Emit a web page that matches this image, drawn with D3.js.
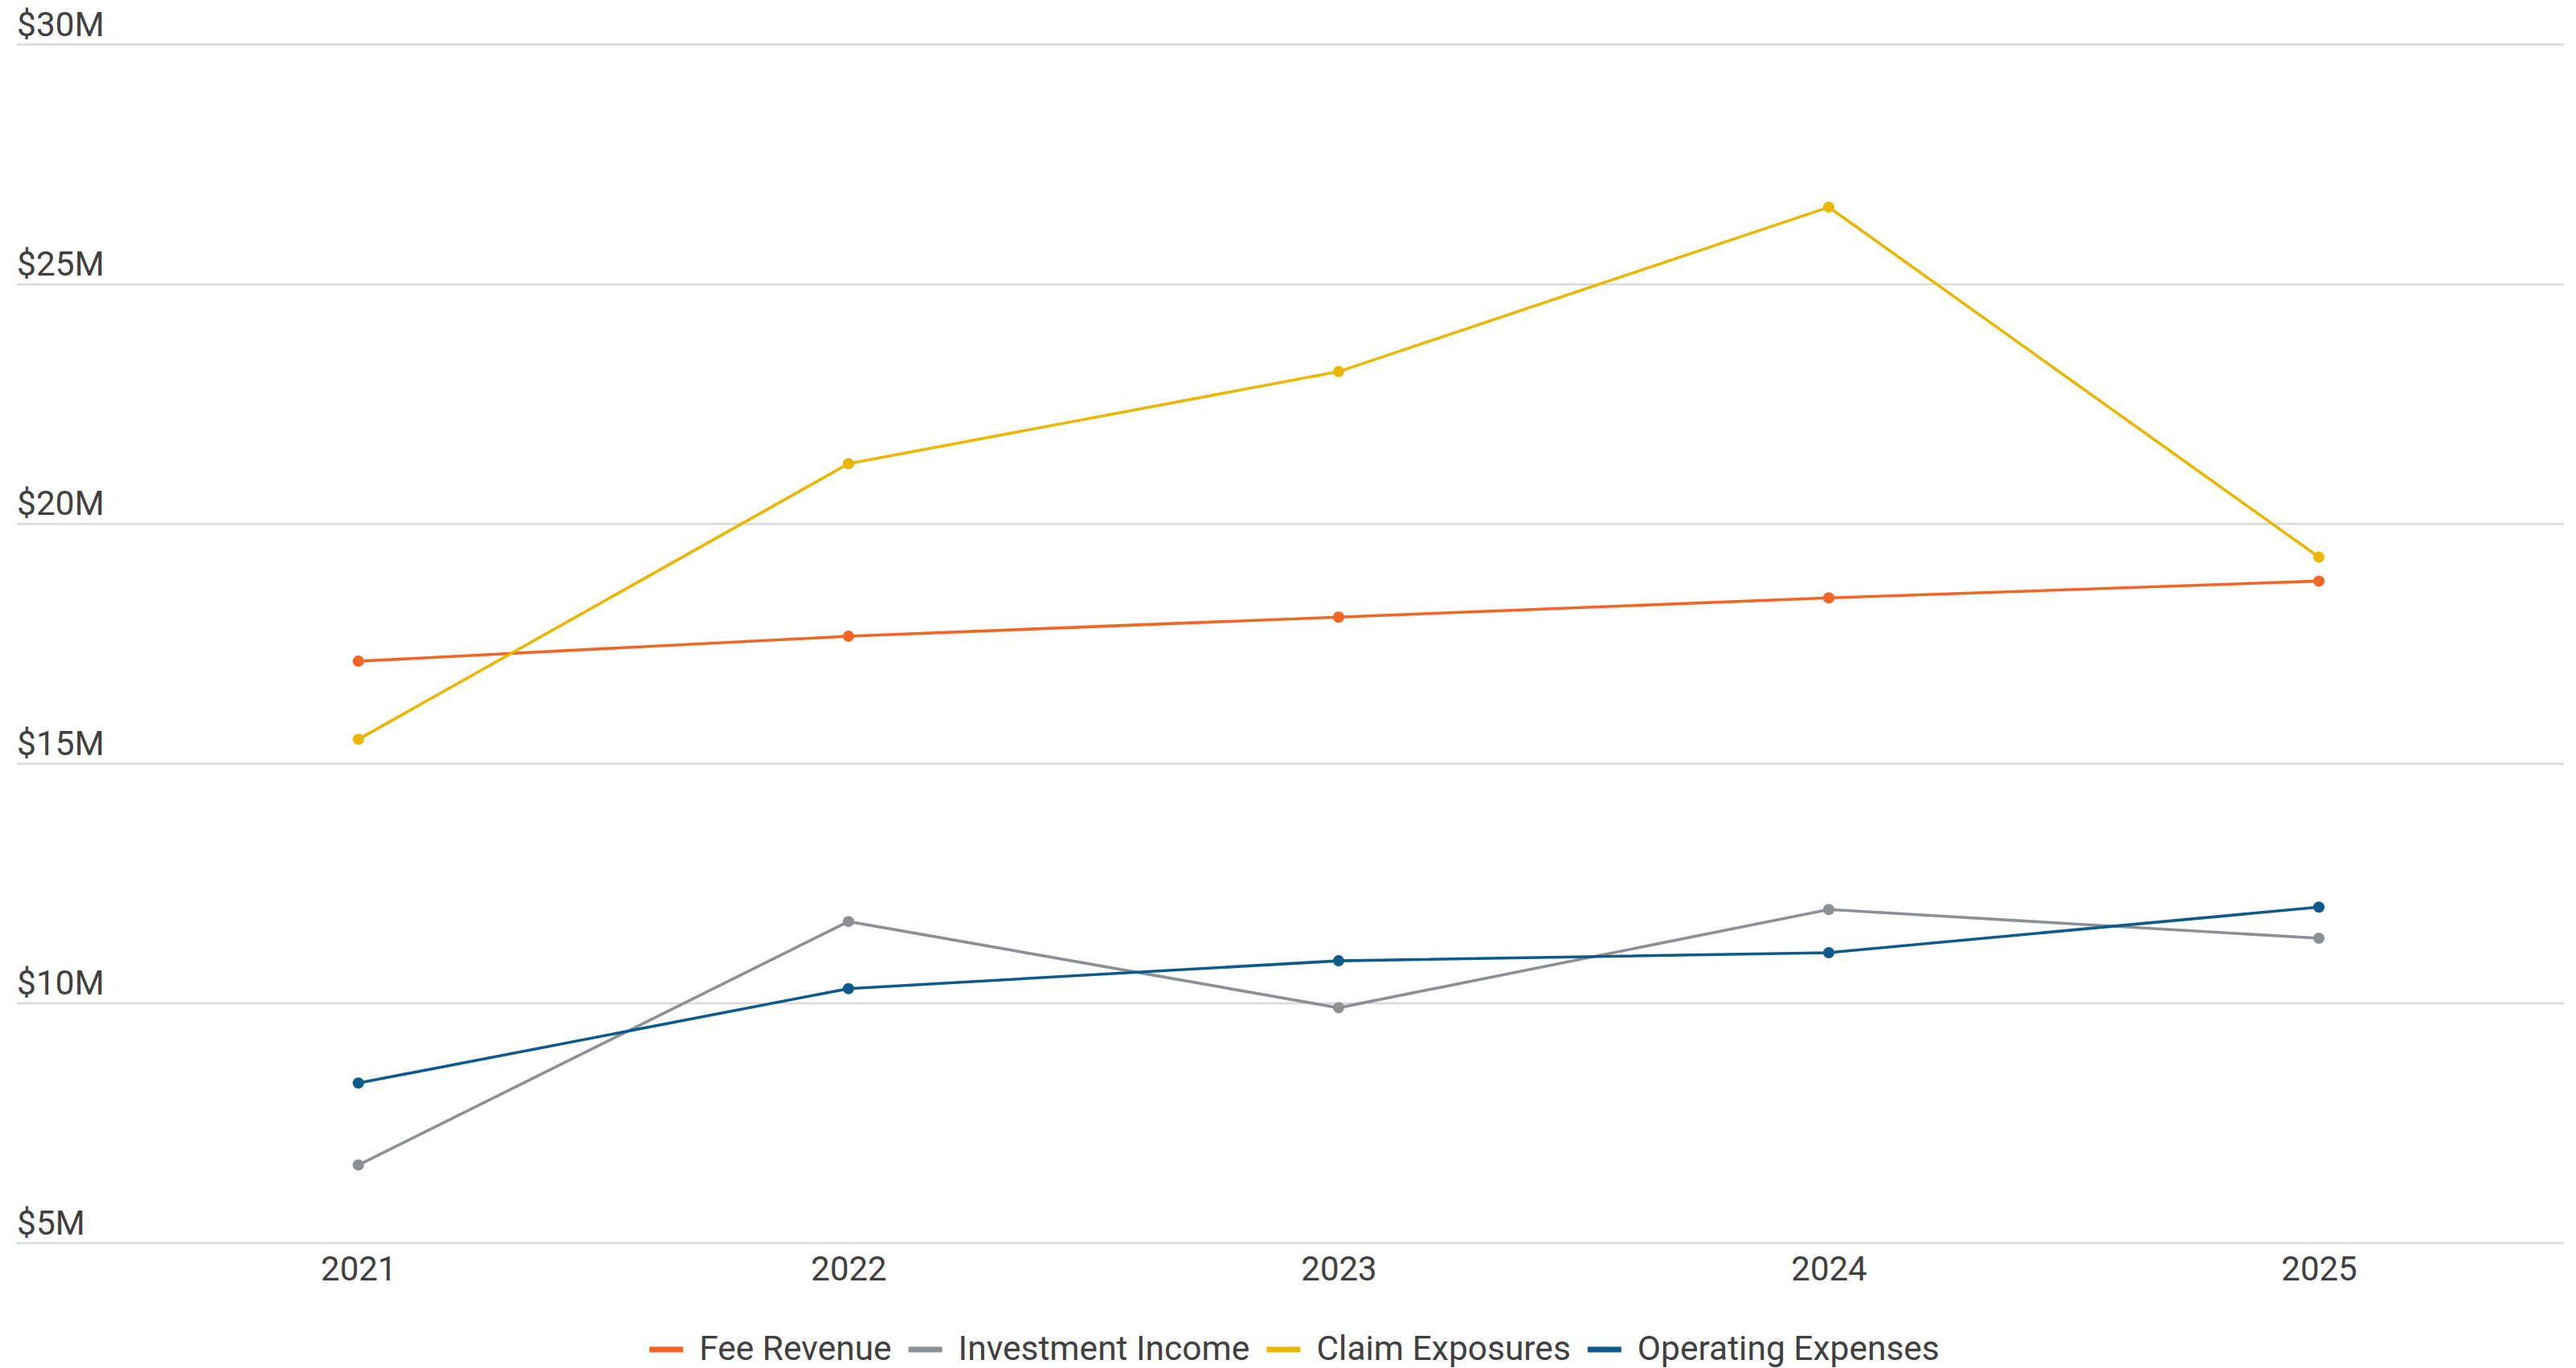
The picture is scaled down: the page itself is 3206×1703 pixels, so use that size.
<!DOCTYPE html>
<head>
    <meta charset="utf-8">
    <script src="https://d3js.org/d3.v7.min.js"></script>
    <style>
        body {
            margin: 0;
            background: #fff;
        }

        text {
            font-family: Roboto, "Noto Sans", sans-serif;
            fill: #404040;
        }
    </style>
</head>

<body>
<svg id="chart" width=3206 height=1703></svg>
<script>

    // values in $M
    const years = ["2021", "2022", "2023", "2024", "2025"];
    const feeRevenue = [17.13, 17.65, 18.05, 18.45, 18.8];
    const investmentIncome = [6.62, 11.7, 9.9, 11.95, 11.35];
    const claimExposures = [15.5, 21.25, 23.17, 26.6, 19.3];
    const operatingExpenses = [8.33, 10.3, 10.88, 11.05, 12.0];
    const seriesNames = ["Fee Revenue", "Investment Income", "Claim Exposures", "Operating Expenses"];
    const seriesColors = ["#f26524", "#8c9094", "#e9b600", "#0e5a8a"];
    const yTicks = [5, 10, 15, 20, 25, 30];

    const width = 3206, height = 1703;
    const gridLeft = 21, gridRight = 3191;
    const plot = {left: 141, right: 3191, top: 55, bottom: 1547};

    let svg = d3.select("#chart");

    let x = d3.scalePoint()
        .domain(years)
        .range([plot.left, plot.right])
        .padding(0.5);

    let y = d3.scaleLinear()
        .domain([5, 30])
        .range([plot.bottom, plot.top]);

    // gridlines + y labels sitting above each line
    let yAxis = d3.axisRight(y)
        .tickValues(yTicks)
        .tickSize(gridRight - gridLeft)
        .tickFormat(function (d) {
            return "$" + d + "M"
        });

    let gy = svg.append("g")
        .attr("transform", "translate(" + gridLeft + ",0)")
        .call(yAxis);
    gy.select(".domain").remove();
    gy.selectAll(".tick line")
        .attr("stroke", "#d9d9d9")
        .attr("stroke-width", 2.5);
    gy.selectAll(".tick text")
        .attr("x", 0)
        .attr("dy", -11)
        .attr("text-anchor", "start")
        .style("font-size", "42.5px")
        .style("fill", "#404040");

    let xAxis = d3.axisBottom(x).tickSize(0);

    let gx = svg.append("g")
        .attr("transform", "translate(0," + plot.bottom + ")")
        .call(xAxis);
    gx.select(".domain").remove();
    gx.selectAll(".tick text")
        .attr("y", 47)
        .attr("dy", 0)
        .style("font-size", "42px")
        .style("fill", "#404040");

    const series = [feeRevenue, investmentIncome, claimExposures, operatingExpenses].map(function (vals, i) {
        return {
            name: seriesNames[i], color: seriesColors[i],
            values: vals.map(function (v, j) {
                return {year: years[j], value: v}
            })
        }
    });

    let line = d3.line()
        .x(function (d) {
            return x(d.year)
        })
        .y(function (d) {
            return y(d.value)
        });

    series.forEach(function (s) {
        let g = svg.append("g");
        g.append("path")
            .datum(s.values)
            .attr("d", line)
            .attr("fill", "none")
            .attr("stroke", s.color)
            .attr("stroke-width", 3.6);
        g.selectAll("circle")
            .data(s.values)
            .enter()
            .append("circle")
            .attr("cx", function (d) {
                return x(d.year)
            })
            .attr("cy", function (d) {
                return y(d.value)
            })
            .attr("r", 7)
            .style("fill", s.color);
    });

    // legend, centred under the chart
    const swatchW = 42, swatchGap = 20, itemGap = 21, legendY = 1680;
    let legend = svg.append("g");
    let xpos = 0;
    seriesNames.forEach(function (name, i) {
        let item = legend.append("g").attr("transform", "translate(" + xpos + ",0)");
        item.append("rect")
            .attr("x", 0)
            .attr("y", legendY - 3.5)
            .attr("width", swatchW)
            .attr("height", 7)
            .style("fill", seriesColors[i]);
        let t = item.append("text")
            .attr("x", swatchW + swatchGap)
            .attr("y", legendY + 13)
            .style("font-size", "42.5px")
            .text(name);
        xpos += swatchW + swatchGap + t.node().getComputedTextLength() + itemGap;
    });
    let legendW = xpos - itemGap;
    legend.attr("transform", "translate(" + (1611 - legendW / 2) + ",0)");

</script>

</body>
